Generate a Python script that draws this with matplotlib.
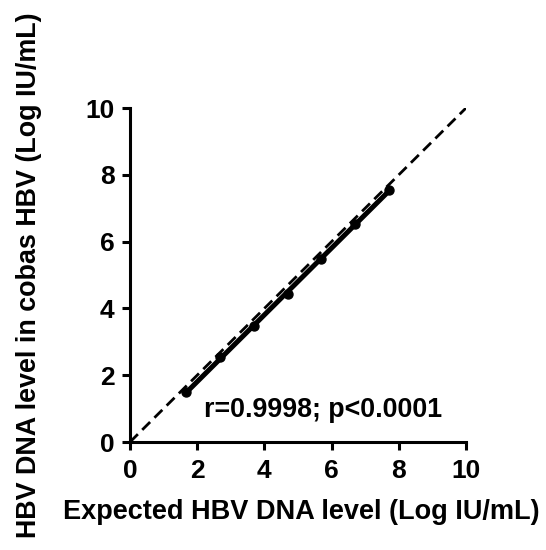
import numpy as np
import matplotlib
matplotlib.use("Agg")
import matplotlib.pyplot as plt

expected = [1.68, 2.69, 3.69, 4.70, 5.69, 6.70, 7.70]
measured = [1.50, 2.55, 3.47, 4.43, 5.48, 6.53, 7.54]
ticks = [0, 2, 4, 6, 8, 10]

plt.rcParams['font.family'] = ['Liberation Sans', 'DejaVu Sans']
plt.rcParams['font.weight'] = 'bold'

fig = plt.figure(figsize=(5.46, 5.5), dpi=100)
ax = fig.add_axes([130/546, 1 - 442/550, 336/546, 334/550])

ax.plot([0, 10], [0, 10], linestyle=(0, (4, 2.2)), color='black', lw=2.0, zorder=2)
slope, intercept = np.polyfit(expected, measured, 1)
xs = np.array([expected[0], expected[-1]])
ax.plot(xs, slope * xs + intercept, color='black', lw=3.6, zorder=3, solid_capstyle='butt')
ax.scatter(expected, measured, s=42, color='black', zorder=4)

ax.text(2.2, 0.95, 'r=0.9998; p<0.0001', fontsize=19.3, fontweight='bold', va='center', ha='left')

ax.set_xlim(0, 10)
ax.set_ylim(0, 10)
ax.set_xticks(ticks)
ax.set_yticks(ticks)
ax.set_xticklabels([str(t) for t in ticks])
ax.set_yticklabels([str(t) for t in ticks])
for s in ['top', 'right']:
    ax.spines[s].set_visible(False)
for s in ['left', 'bottom']:
    ax.spines[s].set_linewidth(2.2)
ax.tick_params(axis='both', direction='out', length=6, width=2.2, labelsize=19, pad=5)
ax.tick_params(axis='x', pad=6)
for lab in ax.get_xticklabels() + ax.get_yticklabels():
    lab.set_fontweight('bold')
ax.set_xlabel('Expected HBV DNA level (Log IU/mL)', fontsize=19.5, fontweight='bold', va='top')
ax.xaxis.set_label_coords(0.51, -0.172)
ax.set_ylabel('HBV DNA level in cobas HBV (Log IU/mL)', fontsize=19.4, fontweight='bold')
ax.yaxis.set_label_coords(-0.262, 0.5)
ax.set_clip_on(False)

fig.savefig('out.png', dpi=100)
